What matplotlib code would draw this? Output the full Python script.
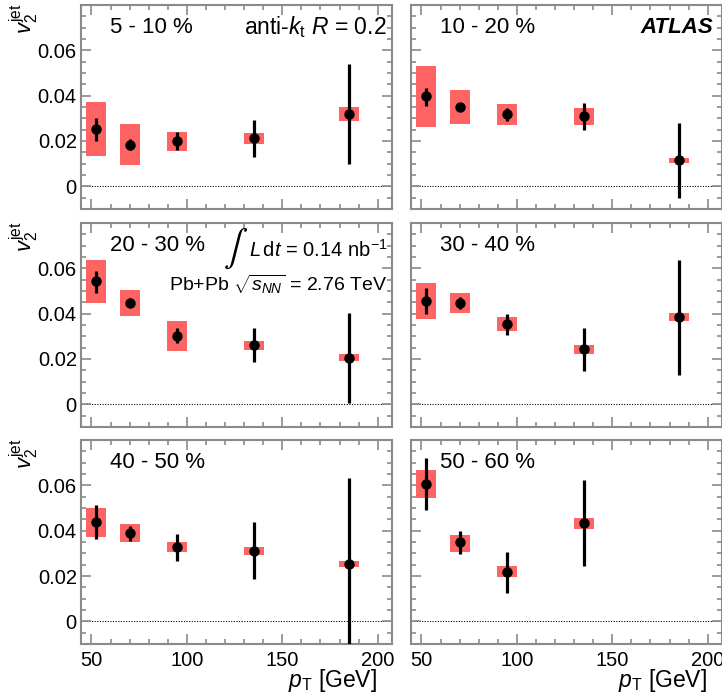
import numpy as np
import matplotlib
matplotlib.use('Agg')
import matplotlib.pyplot as plt
from matplotlib.ticker import MultipleLocator

plt.rcParams['font.family'] = ['Liberation Sans', 'DejaVu Sans']
plt.rcParams['mathtext.fontset'] = 'custom'
plt.rcParams['mathtext.rm'] = 'Liberation Sans'
plt.rcParams['mathtext.it'] = 'Liberation Sans:italic'
plt.rcParams['mathtext.bf'] = 'Liberation Sans:bold'

# jet pT bin centres (GeV)
pt = [52.5, 70, 95, 135, 185]
centrality = ['5 - 10 %', '10 - 20 %', '20 - 30 %', '30 - 40 %', '40 - 50 %', '50 - 60 %']

# v2 values per centrality bin
v2 = [
    [0.0255, 0.0182, 0.0201, 0.0212, 0.0319],
    [0.0399, 0.0350, 0.0319, 0.0309, 0.0114],
    [0.0543, 0.0449, 0.0303, 0.0260, 0.0206],
    [0.0457, 0.0446, 0.0354, 0.0243, 0.0386],
    [0.0439, 0.0389, 0.0327, 0.0311, 0.0254],
    [0.0607, 0.0349, 0.0218, 0.0432],
]
# statistical error bar ends
stat_hi = [
    [0.0303, 0.0207, 0.0240, 0.0292, 0.0538],
    [0.0435, 0.0365, 0.0347, 0.0368, 0.0280],
    [0.0588, 0.0468, 0.0337, 0.0335, 0.0405],
    [0.0512, 0.0474, 0.0398, 0.0335, 0.0638],
    [0.0513, 0.0422, 0.0386, 0.0439, 0.0632],
    [0.0721, 0.0397, 0.0308, 0.0622],
]
stat_lo = [
    [0.0201, 0.0160, 0.0160, 0.0130, 0.0098],
    [0.0356, 0.0336, 0.0289, 0.0248, -0.0053],
    [0.0493, 0.0430, 0.0269, 0.0186, 0.0006],
    [0.0397, 0.0419, 0.0307, 0.0149, 0.0130],
    [0.0363, 0.0355, 0.0264, 0.0186, -0.0130],
    [0.0489, 0.0296, 0.0127, 0.0242],
]
# systematic box ends
sys_hi = [
    [0.0372, 0.0274, 0.0240, 0.0237, 0.0349],
    [0.0530, 0.0426, 0.0365, 0.0344, 0.0125],
    [0.0635, 0.0506, 0.0369, 0.0281, 0.0220],
    [0.0534, 0.0490, 0.0386, 0.0260, 0.0402],
    [0.0500, 0.0429, 0.0349, 0.0330, 0.0268],
    [0.0669, 0.0380, 0.0245, 0.0456],
]
sys_lo = [
    [0.0133, 0.0094, 0.0157, 0.0186, 0.0289],
    [0.0261, 0.0274, 0.0271, 0.0271, 0.0103],
    [0.0446, 0.0389, 0.0234, 0.0239, 0.0190],
    [0.0375, 0.0402, 0.0322, 0.0224, 0.0369],
    [0.0374, 0.0349, 0.0304, 0.0293, 0.0239],
    [0.0543, 0.0308, 0.0195, 0.0408],
]

W, H = 722, 698
fig = plt.figure(figsize=(W / 100, H / 100), dpi=100)
lefts = [81, 411]
tops = [5, 223, 440]
aw, ah = 311, 204
frame = '#8a8a8a'

for i in range(6):
    r, c = divmod(i, 2)
    ax = fig.add_axes([lefts[c] / W, (H - tops[r] - ah) / H, aw / W, ah / H])
    n = len(v2[i])
    x = np.array(pt[:n])
    y = np.array(v2[i])
    lo_s = np.array(sys_lo[i])
    hi_s = np.array(sys_hi[i])
    ax.bar(x, hi_s - lo_s, bottom=lo_s, width=10.5, color='#ff6464', linewidth=0, zorder=2)
    ax.errorbar(x, y, yerr=[y - np.array(stat_lo[i]), np.array(stat_hi[i]) - y],
                fmt='o', color='k', ms=6.5, elinewidth=2.3, capsize=0, zorder=3)
    ax.axhline(0, color='k', lw=0.7, ls=(0, (1.2, 1.5)), zorder=1)

    ax.set_xlim(44.5, 207.5)
    ax.set_ylim(-0.01, 0.08)
    ax.set_xticks([50, 100, 150, 200])
    ax.set_yticks([0, 0.02, 0.04, 0.06])
    ax.xaxis.set_minor_locator(MultipleLocator(10))
    ax.yaxis.set_minor_locator(MultipleLocator(0.005))
    ax.tick_params(which='both', direction='in', top=True, right=True, color=frame,
                   width=1.2, labelsize=14.5)
    ax.tick_params(which='major', length=7)
    ax.tick_params(which='minor', length=3.5)
    ax.tick_params(axis='x', pad=5)
    ax.tick_params(axis='y', pad=3)
    ax.set_yticklabels(['0', '0.02', '0.04', '0.06'])
    if c == 1:
        ax.tick_params(labelleft=False)
    if r < 2:
        ax.tick_params(labelbottom=False)
    for s in ax.spines.values():
        s.set_color(frame)
        s.set_linewidth(1.5)

    ax.text(0.093, 0.89, centrality[i], transform=ax.transAxes, fontsize=16,
            ha='left', va='center')

    if i == 0:
        ax.text(0.984, 0.89, r'anti-$k_\mathrm{t}$ $R$ = 0.2', transform=ax.transAxes,
                fontsize=16.5, ha='right', va='center')
    if i == 1:
        ax.text(0.972, 0.89, 'ATLAS', transform=ax.transAxes, fontsize=16,
                fontweight='bold', fontstyle='italic', ha='right', va='center')
    if i == 2:
        lum = ax.text(0.984, 0.833, r'$L\,\mathrm{d}t$ = 0.14 nb$^{-1}$', transform=ax.transAxes,
                      fontsize=14.5, ha='right', va='baseline')
        ax.annotate(r'$\int$', xy=(0, 0.55), xycoords=lum, xytext=(-0.5, 0),
                    textcoords='offset points', fontsize=26, ha='right', va='center',
                    math_fontfamily='stixsans')
        ax.text(0.984, 0.667, r'Pb+Pb $\sqrt{s_{NN}}$ = 2.76 TeV', transform=ax.transAxes,
                fontsize=14, ha='right', va='baseline')
    if c == 0:
        fig.text(24 / W, 1 - (tops[r] - 1) / H, r'$v_2^{\mathrm{jet}}$', rotation=90,
                 fontsize=16, ha='center', va='top')
    if r == 2:
        fig.text((lefts[c] + 0.952 * aw) / W, 1 - 687 / H, r'$p_\mathrm{T}$ [GeV]',
                 fontsize=16.5, ha='right', va='baseline')

fig.savefig('out.png', dpi=100)
